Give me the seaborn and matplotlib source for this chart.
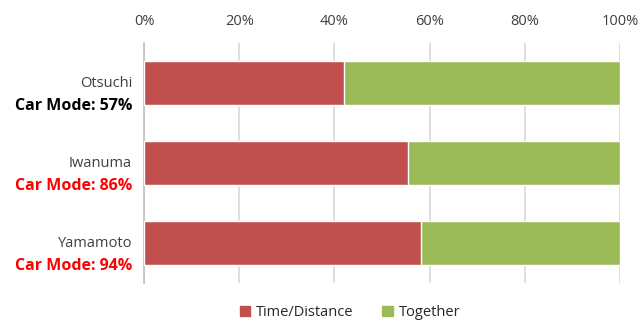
import pandas as pd
import matplotlib.pyplot as plt
import seaborn as sns
from matplotlib.patches import Patch
from matplotlib.ticker import PercentFormatter

# Data
sites = ['Otsuchi', 'Iwanuma', 'Yamamoto']
car_mode = ['Car Mode: 57%', 'Car Mode: 86%', 'Car Mode: 94%']
car_mode_colors = ['#000000', '#ff0000', '#ff0000']
time_distance = [42, 55.4, 58.2]
together = [100 - v for v in time_distance]

data = pd.DataFrame({'site': sites, 'time_distance': time_distance, 'together': together})
data['total'] = data['time_distance'] + data['together']

sns.set_theme(style='white')
plt.rcParams['font.family'] = ['Open Sans', 'DejaVu Sans']

fig = plt.figure(figsize=(6.42, 3.22), dpi=100)
ax = fig.add_axes([0.2243, 0.1211, 0.7414, 0.7454])

red = '#c0504d'
green = '#9bbb59'

# stacked bars: full length in green, red part on top
sns.barplot(data=data, x='total', y='site', color=green, orient='h', width=0.56,
            saturation=1, ax=ax, zorder=2)
sns.barplot(data=data, x='time_distance', y='site', color=red, orient='h', width=0.56,
            saturation=1, ax=ax, zorder=3)

ax.set_xlim(0, 100)
ax.set_ylim(2.5, -0.5)
ax.set_xticks([0, 20, 40, 60, 80, 100])
ax.xaxis.set_major_formatter(PercentFormatter(decimals=0))
ax.xaxis.tick_top()
ax.tick_params(axis='x', length=0, pad=10, labelsize=10.5, labelcolor='#404040')
ax.grid(axis='x', color='#d9d9d9', linewidth=1.2, zorder=0)
ax.set_axisbelow(True)
ax.set_xlabel('')
ax.set_ylabel('')

for side in ['top', 'right', 'bottom']:
    ax.spines[side].set_visible(False)
ax.spines['left'].set_color('#bfbfbf')
ax.spines['left'].set_linewidth(1.2)

# two-line category labels
ax.set_yticks(range(len(sites)))
ax.set_yticklabels([])
ax.tick_params(axis='y', length=0)
trans = ax.get_yaxis_transform()
for i, (site, mode, col) in enumerate(zip(sites, car_mode, car_mode_colors)):
    ax.text(-0.025, i + 0.01, site, transform=trans, ha='right', va='center',
            fontsize=10.5, color='#404040')
    ax.text(-0.025, i + 0.29, mode, transform=trans, ha='right', va='center',
            fontsize=11.5, fontweight='bold', color=col)

handles = [Patch(color=red, label='Time/Distance'), Patch(color=green, label='Together')]
fig.legend(handles=handles, loc='lower center', bbox_to_anchor=(0.545, -0.035), ncol=2,
           frameon=False, fontsize=10.5, handlelength=0.7, handleheight=0.7,
           handletextpad=0.4, columnspacing=2.0)

fig.savefig('out.png', dpi=100)
